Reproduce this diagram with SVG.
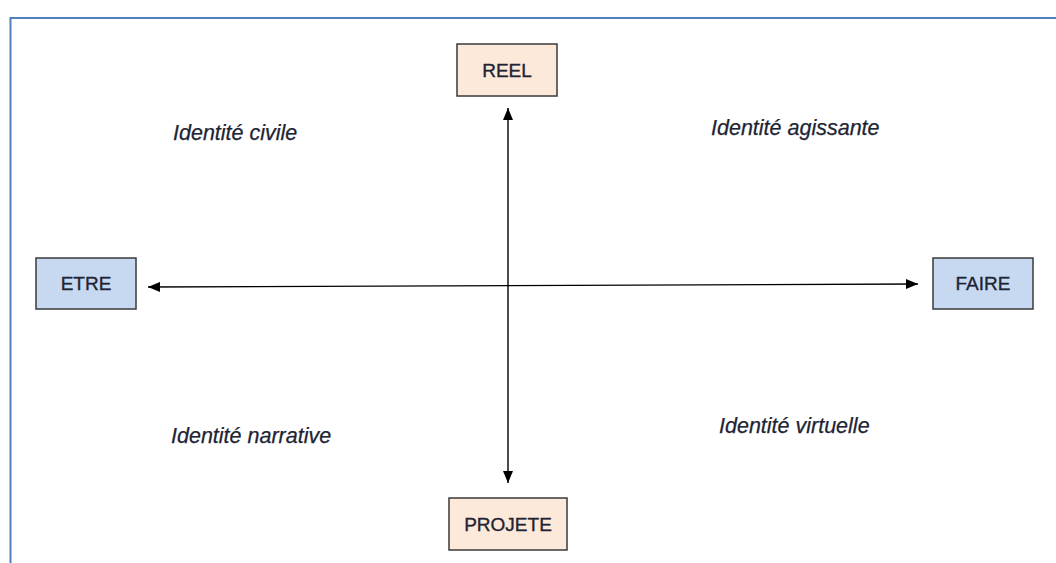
<svg xmlns="http://www.w3.org/2000/svg" width="1056" height="563" viewBox="0 0 1056 563">
  <defs>
    <marker id="head" viewBox="0 0 12 10" refX="12" refY="5" markerWidth="12" markerHeight="10" markerUnits="userSpaceOnUse" orient="auto-start-reverse">
      <path d="M0,0 L12,5 L0,10 Z" fill="#000"/>
    </marker>
    <style>
      .box { stroke: #3a3a3a; stroke-width: 1.5; }
      .warm { fill: #fde9d9; }
      .cool { fill: #c6d9f1; }
      .lbl { font-family: "Liberation Sans", Arial, sans-serif; font-size: 19px; fill: #1e2433; stroke: #1e2433; stroke-width: 0.35; text-anchor: middle; }
      .quad { font-family: "Liberation Sans", Arial, sans-serif; font-size: 21.5px; font-style: italic; fill: #1e2433; stroke: #1e2433; stroke-width: 0.25; }
      .axis { stroke: #000; stroke-width: 1.4; fill: none; marker-start: url(#head); marker-end: url(#head); }
    </style>
  </defs>
  <rect width="1056" height="563" fill="#fff"/>

  <!-- frame -->
  <path d="M10.5,563 V18 H1056" fill="none" stroke="#4f81bd" stroke-width="2"/>

  <!-- axes -->
  <g id="connectors">
    <line class="axis" x1="508" y1="108" x2="508" y2="483"/>
    <line class="axis" x1="148" y1="287" x2="918" y2="284"/>
  </g>

  <g id="reel">
    <rect class="box warm" x="457" y="44" width="100" height="52"/>
    <text class="lbl" x="507" y="77">REEL</text>
  </g>
  <g id="etre">
    <rect class="box cool" x="36" y="258" width="100" height="51"/>
    <text class="lbl" x="86" y="290">ETRE</text>
  </g>
  <g id="faire">
    <rect class="box cool" x="933" y="258" width="100" height="51"/>
    <text class="lbl" x="983" y="290">FAIRE</text>
  </g>
  <g id="projete">
    <rect class="box warm" x="449" y="498" width="118" height="52"/>
    <text class="lbl" x="508" y="531">PROJETE</text>
  </g>

  <g id="quadrants">
    <text class="quad" x="173" y="140">Identité civile</text>
    <text class="quad" x="711" y="135">Identité agissante</text>
    <text class="quad" x="171" y="443">Identité narrative</text>
    <text class="quad" x="719" y="433">Identité virtuelle</text>
  </g>
</svg>
